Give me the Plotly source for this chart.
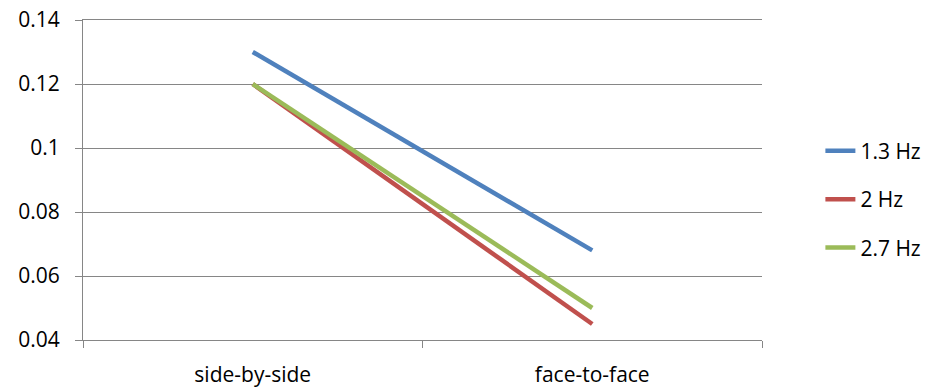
import plotly.graph_objects as go

categories = ["side-by-side", "face-to-face"]
series_names = ["1.3 Hz", "2 Hz", "2.7 Hz"]
hz_1_3 = [0.13, 0.068]
hz_2 = [0.12, 0.045]
hz_2_7 = [0.12, 0.05]
colors = ["#4F81BD", "#C0504D", "#9BBB59"]
y_tickvals = [0.04, 0.06, 0.08, 0.10, 0.12, 0.14]
y_ticktext = ["0.04", "0.06", "0.08", "0.1", "0.12", "0.14"]

FONT = "Open Sans"
FS = 21
GRID = "#868686"

fig = go.Figure()
for name, vals, col in zip(series_names, [hz_1_3, hz_2, hz_2_7], colors):
    fig.add_trace(go.Scatter(
        x=categories, y=vals, name=name, mode="lines",
        line=dict(color=col, width=4.5),
        legendgroup=name,
    ))

fig.update_layout(
    width=930, height=390,
    margin=dict(l=83, r=168, t=20, b=50, autoexpand=False),
    paper_bgcolor="white", plot_bgcolor="white",
    font=dict(family=FONT, size=FS, color="#000000"),
    showlegend=True,
    legend=dict(
        x=1.086, xanchor="left", y=0.44, yanchor="middle",
        bgcolor="rgba(0,0,0,0)", tracegroupgap=18,
        font=dict(family=FONT, size=FS, color="#000000"),
    ),
    xaxis=dict(
        type="category", range=[-0.5, 1.5],
        tickson="boundaries", ticks="outside", ticklen=7, tickcolor=GRID,
        showline=True, linecolor=GRID, linewidth=1, mirror=True,
        showgrid=False, zeroline=False,
        ticklabelstandoff=16,
        tickfont=dict(family=FONT, size=FS),
    ),
    yaxis=dict(
        range=[0.04, 0.14], tickvals=y_tickvals, ticktext=y_ticktext,
        ticks="outside", ticklen=7, tickcolor=GRID,
        showline=True, linecolor=GRID, linewidth=1,
        showgrid=True, gridcolor=GRID, gridwidth=1,
        zeroline=False,
        ticklabelstandoff=11,
        tickfont=dict(family=FONT, size=FS),
    ),
)

fig.write_html(
    "out.html",
    config={"displayModeBar": False},
    post_script="document.body.style.margin='0';",
)
